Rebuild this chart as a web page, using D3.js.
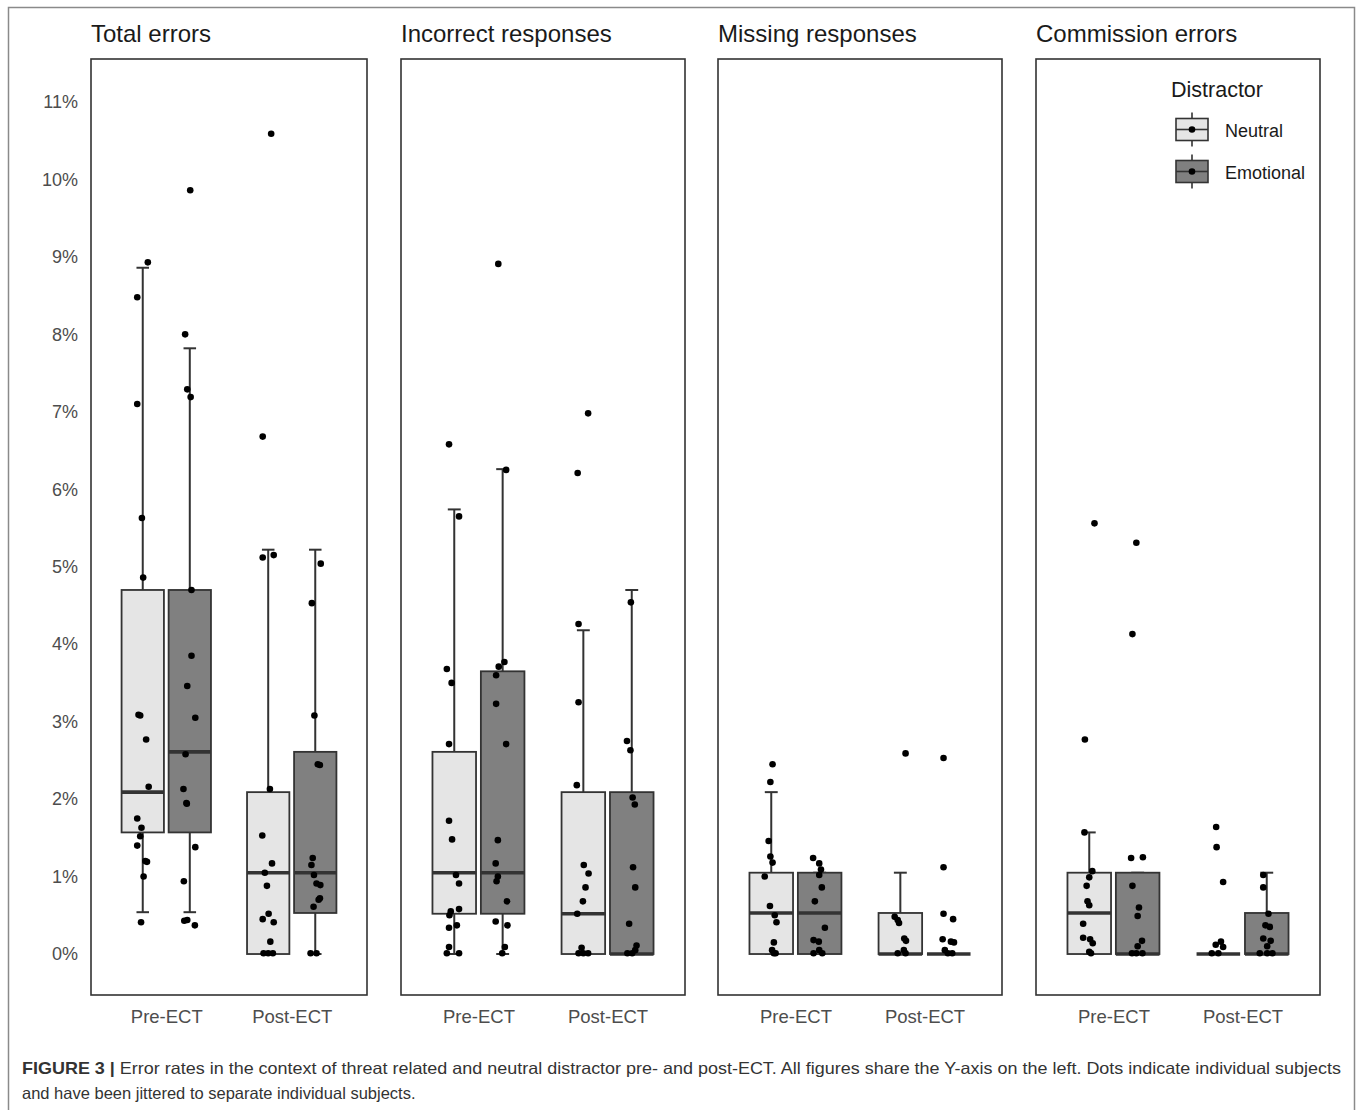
<!DOCTYPE html>
<html>
<head>
<meta charset="utf-8">
<script src="https://cdn.jsdelivr.net/npm/d3@7"></script>
<style>
  body { margin: 0; background: #fff; }
  svg { display: block; }
  text { font-family: "Liberation Sans", Arial, Helvetica, sans-serif; }
</style>
</head>
<body>
<svg id="fig" width="1360" height="1110"></svg>
<script>
// ---- data ---------------------------------------------------------------
const panelTitles = ["Total errors", "Incorrect responses", "Missing responses", "Commission errors"];
const phases = ["Pre-ECT", "Post-ECT"];
const distractors = ["Neutral", "Emotional"];
const yTicks = [0, 1, 2, 3, 4, 5, 6, 7, 8, 9, 10, 11];

// Box statistics in % : [lower whisker, Q1, median, Q3, upper whisker]
// order: Pre-Neutral, Pre-Emotional, Post-Neutral, Post-Emotional
const totalBoxes      = [[0.54, 1.57, 2.09, 4.70, 8.86], [0.54, 1.57, 2.61, 4.70, 7.82], [0, 0, 1.05, 2.09, 5.22], [0, 0.53, 1.05, 2.61, 5.22]];
const incorrectBoxes  = [[0, 0.52, 1.05, 2.61, 5.74], [0, 0.52, 1.05, 3.65, 6.26], [0, 0, 0.52, 2.09, 4.18], [0, 0, 0, 2.09, 4.70]];
const missingBoxes    = [[0, 0, 0.53, 1.05, 2.09], [0, 0, 0.53, 1.05, 1.05], [0, 0, 0, 0.53, 1.05], [0, 0, 0, 0, 0]];
const commissionBoxes = [[0, 0, 0.53, 1.05, 1.57], [0, 0, 0, 1.05, 1.05], [0, 0, 0, 0, 0], [0, 0, 0, 0.53, 1.05]];

// Individual subjects: [error rate %, horizontal jitter as fraction of box width]
const totalPoints = [
  [[8.93, 0.12], [8.48, -0.13], [7.10, -0.13], [5.63, -0.02], [4.86, 0.01], [3.09, -0.10], [3.08, -0.06], [2.77, 0.08], [2.16, 0.14],
   [1.75, -0.13], [1.63, -0.03], [1.52, -0.06], [1.40, -0.13], [1.20, 0.06], [1.19, 0.10], [1.00, 0.02], [0.41, -0.04]],
  [[9.86, 0.01], [8.00, -0.11], [7.29, -0.06], [7.19, 0.02], [4.70, 0.04], [3.85, 0.04], [3.46, -0.06], [3.05, 0.13], [2.58, -0.10],
   [2.13, -0.15], [1.95, -0.08], [1.94, -0.07], [1.38, 0.13], [0.94, -0.14], [0.43, -0.13], [0.44, -0.06], [0.37, 0.12]],
  [[10.59, 0.07], [6.68, -0.13], [5.12, -0.13], [5.15, 0.13], [2.13, 0.04], [1.53, -0.14], [1.17, 0.09], [1.05, -0.08], [0.88, -0.03],
   [0.52, 0.01], [0.45, -0.13], [0.41, 0.13], [0.16, 0.05], [0.01, -0.11], [0.01, 0.00], [0.01, 0.11]],
  [[5.04, 0.13], [4.53, -0.08], [3.08, -0.02], [2.45, 0.06], [2.44, 0.11], [1.24, -0.06], [1.15, -0.09], [1.02, -0.03], [0.91, 0.03],
   [0.89, 0.12], [0.72, 0.11], [0.70, 0.08], [0.61, -0.04], [0.01, -0.11], [0.01, 0.03]]
];
const incorrectPoints = [
  [[6.58, -0.12], [5.65, 0.11], [3.68, -0.17], [3.50, -0.06], [2.71, -0.12], [1.72, -0.12], [1.48, -0.05], [1.02, 0.04], [0.91, 0.11],
   [0.58, 0.11], [0.55, -0.08], [0.50, -0.11], [0.34, -0.12], [0.37, 0.06], [0.09, -0.12], [0.01, -0.17], [0.01, 0.11]],
  [[8.91, -0.10], [6.25, 0.08], [3.77, 0.04], [3.71, -0.09], [3.60, -0.15], [3.23, -0.15], [2.71, 0.08], [1.47, -0.11], [1.17, -0.16],
   [1.00, -0.11], [0.94, -0.14], [0.68, 0.10], [0.42, -0.16], [0.37, 0.11], [0.09, 0.05], [0.01, -0.01]],
  [[6.98, 0.11], [6.21, -0.13], [4.26, -0.11], [3.25, -0.11], [2.18, -0.15], [1.15, 0.01], [1.04, 0.12], [0.86, 0.05], [0.68, -0.01],
   [0.52, -0.14], [0.08, -0.04], [0.01, -0.11], [0.01, 0.00], [0.01, 0.11]],
  [[4.54, -0.02], [2.75, -0.11], [2.63, -0.03], [2.02, 0.02], [1.93, 0.07], [1.12, 0.03], [0.86, 0.08], [0.39, -0.06], [0.11, 0.11],
   [0.01, -0.10], [0.01, 0.01], [0.05, 0.08]]
];
const missingPoints = [
  [[2.45, 0.03], [2.22, -0.02], [1.46, -0.06], [1.26, -0.02], [1.18, 0.03], [1.00, -0.15], [0.62, -0.03], [0.50, 0.08], [0.41, 0.12],
   [0.15, 0.06], [0.05, 0.02], [0.01, 0.06], [0.01, 0.10]],
  [[1.24, -0.15], [1.17, -0.01], [1.09, 0.03], [1.02, -0.01], [0.86, 0.05], [0.68, -0.11], [0.34, 0.12], [0.18, -0.14], [0.16, -0.02],
   [0.05, -0.01], [0.01, -0.14], [0.01, 0.06]],
  [[2.59, 0.12], [0.48, -0.13], [0.44, -0.06], [0.40, -0.03], [0.20, 0.09], [0.17, 0.13], [0.05, 0.08], [0.01, -0.06], [0.01, 0.12]],
  [[2.53, -0.12], [1.12, -0.12], [0.52, -0.12], [0.45, 0.10], [0.19, -0.14], [0.16, 0.05], [0.15, 0.12], [0.05, -0.09], [0.01, -0.02],
   [0.01, 0.08]]
];
const commissionPoints = [
  [[5.56, 0.12], [2.77, -0.10], [1.57, -0.11], [1.07, 0.07], [0.99, 0.00], [0.88, -0.06], [0.68, -0.04], [0.63, 0.00], [0.39, -0.14],
   [0.21, -0.14], [0.19, 0.02], [0.14, 0.08], [0.03, 0.00], [0.01, 0.04]],
  [[5.31, -0.03], [4.13, -0.12], [1.24, -0.15], [1.25, 0.12], [0.88, -0.12], [0.60, 0.03], [0.49, 0.00], [0.17, 0.10], [0.10, 0.00],
   [0.01, -0.13], [0.01, -0.03], [0.01, 0.11]],
  [[1.64, -0.05], [1.38, -0.04], [0.93, 0.11], [0.16, 0.06], [0.12, -0.06], [0.09, 0.11], [0.01, -0.15], [0.01, 0.00]],
  [[1.02, -0.08], [0.86, -0.08], [0.52, 0.04], [0.37, -0.03], [0.35, 0.07], [0.20, -0.08], [0.17, 0.09], [0.10, 0.01], [0.01, -0.16],
   [0.01, 0.01], [0.01, 0.13]]
];

const panelBoxes = [totalBoxes, incorrectBoxes, missingBoxes, commissionBoxes];
const panelPoints = [totalPoints, incorrectPoints, missingPoints, commissionPoints];

// ---- layout -------------------------------------------------------------
const svg = d3.select("#fig");
const panelLeft  = [91, 401, 718, 1036];
const panelRight = [367, 685, 1002, 1320];
const panelTop = 59, panelBottom = 995;

const fills = d3.scaleOrdinal().domain(distractors).range(["#e5e5e5", "#808080"]);
const ink = "#333333";
const dodge = 0.1875, boxW = 0.3375, capW = 0.1;

const y = d3.scaleLinear().domain([-0.529, 11.555]).range([panelBottom, panelTop]);

// figure frame
svg.append("rect")
  .attr("x", 8.5).attr("y", 7.5).attr("width", 1346).attr("height", 1120)
  .attr("fill", "none").attr("stroke", "#8a8a8a").attr("stroke-width", 1.5);

panelTitles.forEach((title, p) => {
  const g = svg.append("g");
  const x = d3.scaleLinear().domain([-0.6, 1.6]).range([panelLeft[p], panelRight[p]]);

  // title
  g.append("text")
    .attr("x", panelLeft[p]).attr("y", 41.5)
    .attr("font-size", 24).attr("fill", "#1a1a1a")
    .text(title);

  // boxes: order Pre-N, Pre-E, Post-N, Post-E
  const groups = panelBoxes[p].map((s, i) => ({
    stats: s,
    phase: Math.floor(i / 2),
    distractor: distractors[i % 2],
    cx: Math.floor(i / 2) + (i % 2 === 0 ? -dodge : dodge),
    pts: panelPoints[p][i]
  }));

  groups.forEach(d => {
    const [lo, q1, med, q3, hi] = d.stats;
    const bg = g.append("g");
    // whiskers with end caps
    bg.append("line")
      .attr("x1", x(d.cx)).attr("x2", x(d.cx))
      .attr("y1", y(lo)).attr("y2", y(hi))
      .attr("stroke", ink).attr("stroke-width", 2);
    [lo, hi].forEach(v => {
      bg.append("line")
        .attr("x1", x(d.cx - capW / 2)).attr("x2", x(d.cx + capW / 2))
        .attr("y1", y(v)).attr("y2", y(v))
        .attr("stroke", ink).attr("stroke-width", 2);
    });
    // box
    bg.append("rect")
      .attr("x", x(d.cx - boxW / 2))
      .attr("width", x(d.cx + boxW / 2) - x(d.cx - boxW / 2))
      .attr("y", y(q3))
      .attr("height", Math.max(0, y(q1) - y(q3)))
      .attr("fill", fills(d.distractor))
      .attr("stroke", ink).attr("stroke-width", 1.8);
    // median
    bg.append("line")
      .attr("x1", x(d.cx - boxW / 2)).attr("x2", x(d.cx + boxW / 2))
      .attr("y1", y(med)).attr("y2", y(med))
      .attr("stroke", ink).attr("stroke-width", 3.6);
  });

  // jittered subjects
  groups.forEach(d => {
    g.append("g").selectAll("circle")
      .data(d.pts)
      .join("circle")
      .attr("cx", pt => x(d.cx + pt[1] * boxW))
      .attr("cy", pt => y(pt[0]))
      .attr("r", 3.3)
      .attr("fill", "#000");
  });

  // panel frame
  g.append("rect")
    .attr("x", panelLeft[p]).attr("y", panelTop)
    .attr("width", panelRight[p] - panelLeft[p]).attr("height", panelBottom - panelTop)
    .attr("fill", "none").attr("stroke", ink).attr("stroke-width", 1.6);

  // x axis
  const xa = g.append("g")
    .attr("transform", `translate(0,${panelBottom})`)
    .call(d3.axisBottom(x).tickValues([0, 1]).tickFormat(i => phases[i]).tickSize(0).tickPadding(15));
  xa.select(".domain").remove();
  xa.selectAll("text").attr("font-size", 18.5).attr("fill", "#4d4d4d")
    .style("font-family", "'Liberation Sans', Arial, sans-serif");

  // y axis (left panel only)
  if (p === 0) {
    const ya = g.append("g")
      .attr("transform", `translate(${panelLeft[p]},0)`)
      .call(d3.axisLeft(y).tickValues(yTicks).tickFormat(v => v + "%").tickSize(0).tickPadding(13));
    ya.select(".domain").remove();
    ya.selectAll("text").attr("font-size", 18).attr("fill", "#4d4d4d")
      .style("font-family", "'Liberation Sans', Arial, sans-serif");
  }
});

// ---- legend -------------------------------------------------------------
const lg = svg.append("g");
lg.append("text").attr("x", 1171).attr("y", 96.5)
  .attr("font-size", 21.5).attr("fill", "#1a1a1a").text("Distractor");

const keyRow = d3.scalePoint().domain(distractors).range([129.5, 171.5]);
distractors.forEach(name => {
  const cy = keyRow(name);
  const k = lg.append("g");
  k.append("line").attr("x1", 1192).attr("x2", 1192).attr("y1", cy - 17).attr("y2", cy + 17)
    .attr("stroke", ink).attr("stroke-width", 1.6);
  k.append("rect").attr("x", 1176).attr("y", cy - 11).attr("width", 32).attr("height", 22)
    .attr("fill", fills(name)).attr("stroke", ink).attr("stroke-width", 1.6);
  k.append("line").attr("x1", 1176).attr("x2", 1208).attr("y1", cy).attr("y2", cy)
    .attr("stroke", ink).attr("stroke-width", 1.6);
  k.append("circle").attr("cx", 1192).attr("cy", cy).attr("r", 3.3).attr("fill", "#000");
  lg.append("text").attr("x", 1225).attr("y", cy + 7)
    .attr("font-size", 18).attr("fill", "#1a1a1a").text(name);
});

// ---- caption ------------------------------------------------------------
const cap1 = svg.append("text").attr("x", 22).attr("y", 1073.5)
  .attr("font-size", 16.5).attr("fill", "#333")
  .attr("textLength", 1319).attr("lengthAdjust", "spacingAndGlyphs");
cap1.append("tspan").attr("font-weight", "bold").text("FIGURE 3 |");
cap1.append("tspan").text(" Error rates in the context of threat related and neutral distractor pre- and post-ECT. All figures share the Y-axis on the left. Dots indicate individual subjects");
svg.append("text").attr("x", 22).attr("y", 1098.5)
  .attr("font-size", 16.5).attr("fill", "#333")
  .text("and have been jittered to separate individual subjects.");
</script>
</body>
</html>
